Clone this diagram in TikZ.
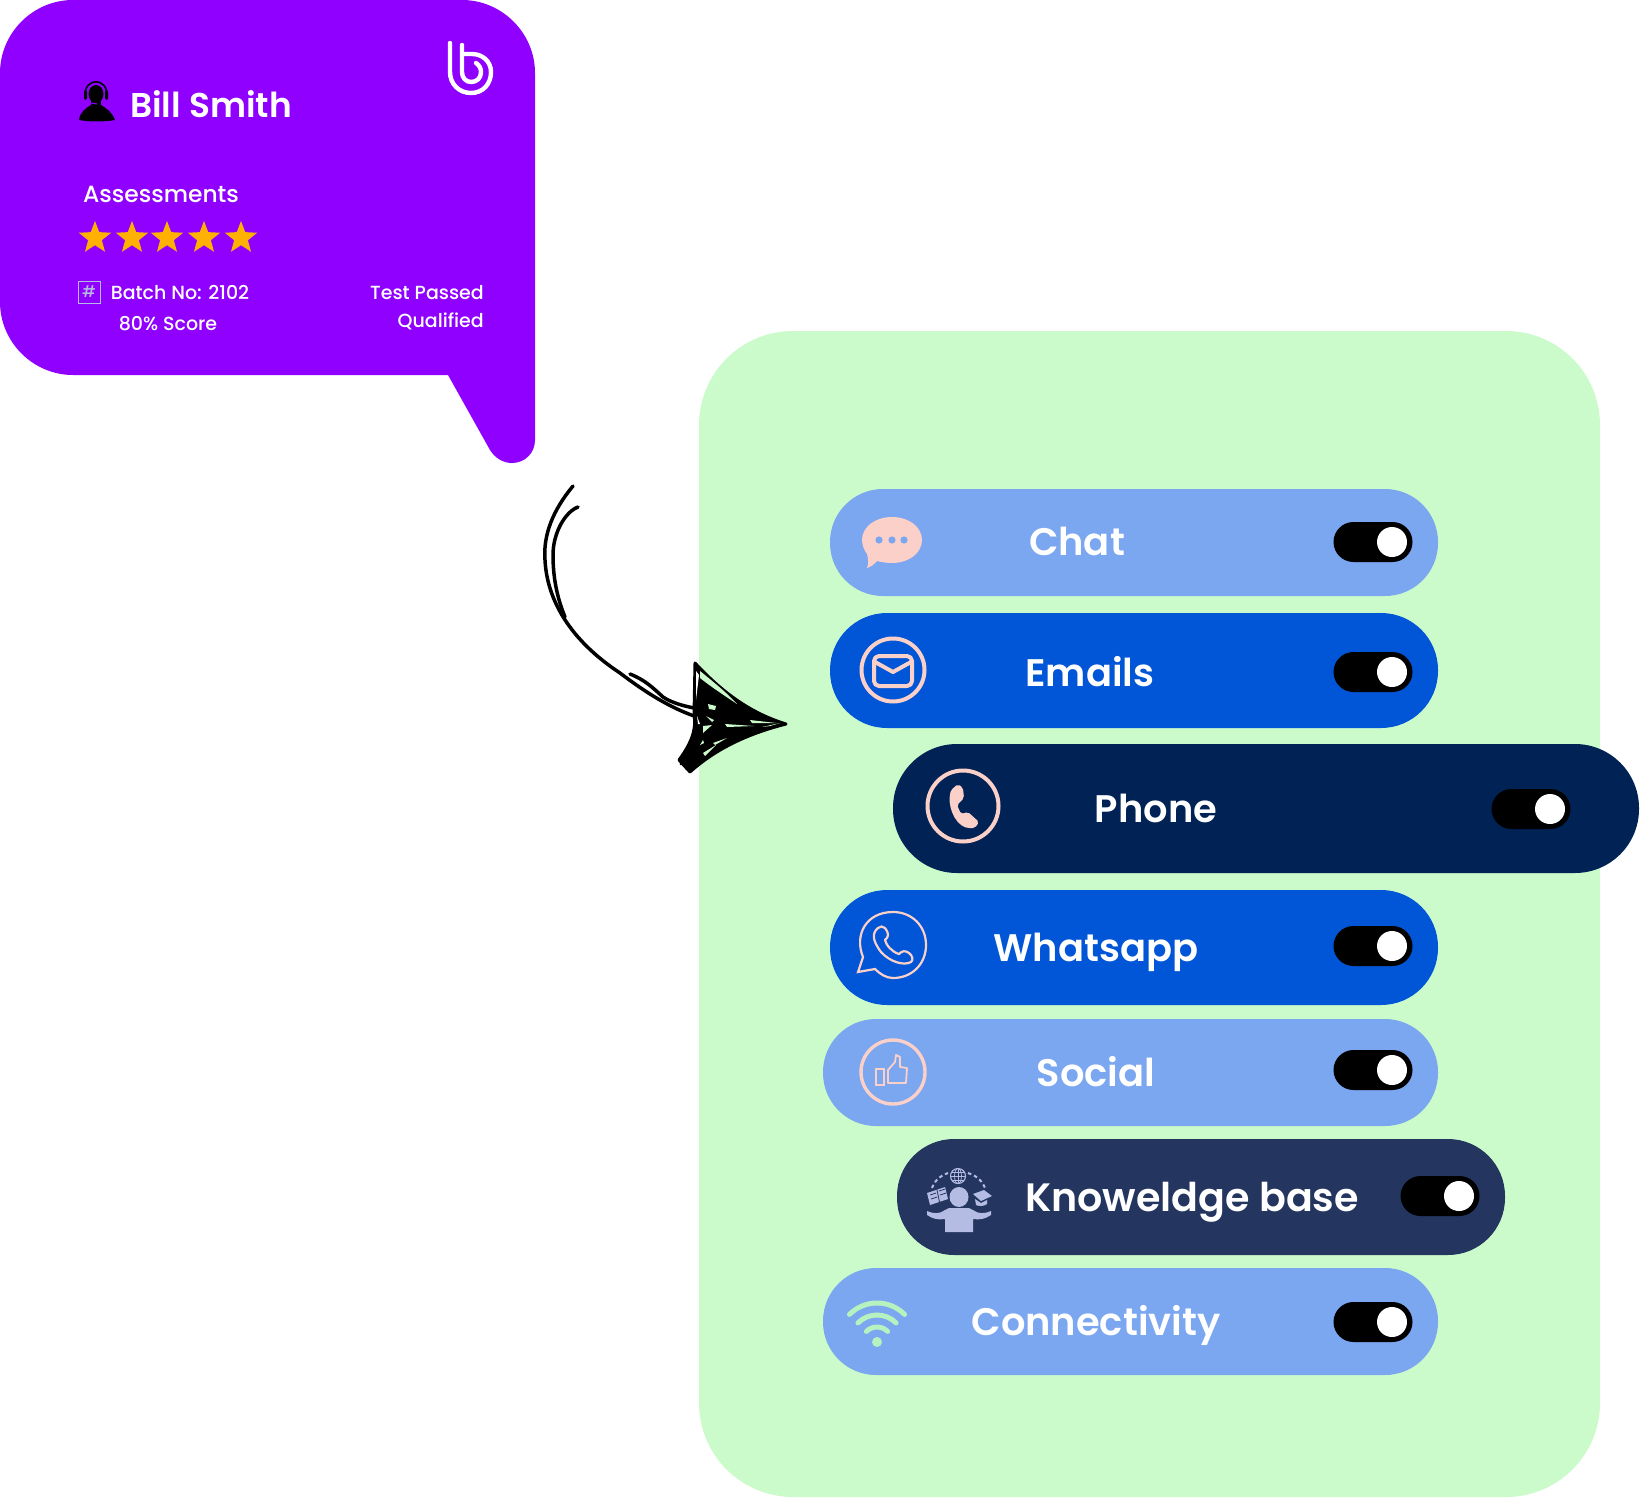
\documentclass[tikz,border=0pt]{standalone}
\usepackage{fontspec}
\setmainfont{Poppins Medium}
\newfontfamily\semi{Poppins SemiBold}
\usetikzlibrary{shapes.geometric}
\definecolor{cPurple}{HTML}{9000FF}
\definecolor{cPanel}{HTML}{CCFBCB}
\definecolor{cLight}{HTML}{7BA6F0}
\definecolor{cBlue}{HTML}{0056D6}
\definecolor{cNavy}{HTML}{002255}
\definecolor{cKb}{HTML}{24365F}
\definecolor{cPink}{HTML}{FBD0C8}
\definecolor{cStar}{HTML}{FFB000}
\definecolor{cWifi}{HTML}{B6F2C0}
\definecolor{cLilac}{HTML}{B4BCE4}
\tikzset{
  lab/.style={text=white,anchor=base,inner sep=0pt,font=\semi\fontsize{38.4}{38}\selectfont},
  small/.style={text=white,inner sep=0pt,anchor=base,font=\fontsize{19}{19}\selectfont},
  gold/.style={star,star points=5,star point ratio=2.35,fill=cStar,inner sep=0pt,minimum size=34pt},
  pinkline/.style={draw=cPink,line width=4pt,line join=round},
  sketch/.style={draw=black,line width=3.5pt,line cap=round,line join=round},
}
\newcommand{\pillshape}[6]{\fill[#6,rounded corners=#5pt] (#1,#2) rectangle (#3,#4);}
\newcommand{\toggleat}[3]{%
  \fill[black,rounded corners=20pt] (#2-39.5,#3-20) rectangle (#2+39.5,#3+20);
  \node[circle,fill=white,inner sep=0pt,minimum size=30pt] (#1) at (#2+19,#3) {};}
\newcommand{\sliv}[2]{\fill[#1] #2 -- cycle;}
\begin{document}
\begin{tikzpicture}[x=1pt,y=-1pt]
\useasboundingbox (0,0) rectangle (1640,1498);
% bubble
\fill[cPurple] (73,0) -- (462,0) .. controls (502,0) and (535,33) .. (535,73)
  -- (535,440) .. controls (535,453) and (525,463) .. (512,463)
  .. controls (503,463) and (495,458) .. (490,450) -- (448,375) -- (73,375)
  .. controls (33,375) and (0,342) .. (0,302) -- (0,73) .. controls (0,33) and (33,0) .. (73,0) -- cycle;
% logo
\draw[white,line width=4.4pt,line cap=round] (450,43) -- (450,72)
  .. controls (450,84) and (459,93) .. (471,93) .. controls (483,93) and (491,84) .. (491,72)
  .. controls (491,61) and (482,54) .. (472,54) -- (463,54);
\draw[white,line width=4.4pt,line cap=round] (462,45) -- (462,72)
  .. controls (462,78) and (466,82) .. (471,82) .. controls (477,82) and (481,78) .. (481,72)
  .. controls (481,68) and (479,65) .. (476,63);
% agent
\fill[black] (79,120) .. controls (80,112) and (86,108) .. (91,105) -- (101,105)
  .. controls (106,108) and (112,112) .. (115,120) .. controls (104,122) and (90,122) .. (79,120) -- cycle;
\fill[black] (96,94) ellipse [x radius=7.5pt,y radius=9pt];
\fill[black] (91,100) rectangle (101,108);
\draw[black,line width=1.6pt] (85,96) .. controls (84,77) and (108,77) .. (107,96);
\fill[black,rounded corners=1.5pt] (84,90) rectangle (87,100);
\fill[black,rounded corners=1.5pt] (105,90) rectangle (108,100);
\draw[cPurple,line width=1pt] (86,100) .. controls (89,104) and (93,103) .. (97,104);
% name and assessments
\node[lab,font=\semi\fontsize{34.4}{34}\selectfont] (name) at (211,118) {Bill Smith};
\node[small,font=\fontsize{23.4}{24}\selectfont] (assess) at (161,203) {Assessments};
\node[gold] (s1) at (95,238) {};
\node[gold] (s2) at (132,238) {};
\node[gold] (s3) at (167,238) {};
\node[gold] (s4) at (204,238) {};
\node[gold] (s5) at (241,238) {};
\draw[cLilac,line width=.7pt] (78,281) rectangle (100,303);
\node[text=cLilac,inner sep=0pt,font=\fontsize{16}{16}\selectfont] (hash) at (89,292) {\#};
\node[small] (batch) at (180,299) {Batch No: 2102};
\node[small] (score) at (168,330) {80\% Score};
\node[small,anchor=base east] (test) at (484,299) {Test Passed};
\node[small,anchor=base east] (qual) at (484,327) {Qualified};
% panel
\fill[cPanel,rounded corners=94pt] (699,331) rectangle (1600,1497);
% pills
\pillshape{830}{489}{1438}{596}{53}{cLight}
\pillshape{830}{613}{1438}{728}{57}{cBlue}
\pillshape{893}{744}{1639}{873}{64}{cNavy}
\pillshape{830}{890}{1438}{1005}{57}{cBlue}
\pillshape{823}{1019}{1438}{1126}{53}{cLight}
\pillshape{897}{1139}{1505}{1255}{57}{cKb}
\pillshape{823}{1268}{1438}{1375}{53}{cLight}
\node[lab] (chat) at (1077,555) {Chat};
\node[lab] (emails) at (1090,686) {Emails};
\node[lab] (phone) at (1156,822) {Phone};
\node[lab] (whatsapp) at (1096,961) {Whatsapp};
\node[lab] (social) at (1096,1086) {Social};
\node[lab,font=\semi\fontsize{39.6}{38}\selectfont] (kb) at (1192,1211) {Knoweldge base};
\node[lab] (conn) at (1096,1335) {Connectivity};
\toggleat{t1}{1373}{542}
\toggleat{t2}{1373}{672}
\toggleat{t3}{1531}{809}
\toggleat{t4}{1373}{946}
\toggleat{t5}{1373}{1070}
\toggleat{t6}{1440}{1196}
\toggleat{t7}{1373}{1322}
% chat icon
\fill[cPink] (892,517) .. controls (909,517) and (922,527) .. (922,540)
  .. controls (922,553) and (909,563) .. (892,563)
  .. controls (886,563) and (881,562) .. (877,561) .. controls (874,565) and (870,567) .. (867,568)
  .. controls (869,563) and (868,558) .. (867,554) .. controls (864,550) and (862,545) .. (862,540)
  .. controls (862,527) and (875,517) .. (892,517) -- cycle;
\foreach \x in {879,892,904} \fill[cLight] (\x,540) circle (3.6pt);
% mail icon
\draw[pinkline] (893,670) circle (31.5pt);
\draw[pinkline,rounded corners=5pt] (874,656) rectangle (912,686);
\draw[pinkline] (875,662) -- (893,672) -- (911,662);
% phone icon
\draw[pinkline] (963,806) circle (35.5pt);
\fill[cPink,rounded corners=2pt] (951,790) .. controls (947,805) and (954,823) .. (967,828) -- (975,828) -- (979,822) -- (968,812)
  -- (961,814) -- (957,805) -- (964,798) -- (963,788) -- (958,784) -- cycle;
% whatsapp icon
\draw[cPink,line width=2.2pt] (863,957) .. controls (854,935) and (866,912) .. (893,912)
  .. controls (912,912) and (926,926) .. (926,945) .. controls (926,964) and (912,978) .. (893,978)
  .. controls (886,978) and (880,974) .. (875,969) -- (858,972) -- cycle;
\draw[cPink,line width=2.2pt,line join=round] (878,928) .. controls (872,933) and (872,940) .. (881,952)
  .. controls (890,962) and (904,966) .. (911,962) .. controls (914,960) and (912,955) .. (909,953)
  .. controls (905,950) and (902,951) .. (899,954) .. controls (892,952) and (886,945) .. (885,940)
  .. controls (889,937) and (889,933) .. (885,928) .. controls (883,926) and (880,926) .. (878,928) -- cycle;
% social icon
\draw[pinkline,line width=3.4pt] (893,1072) circle (32pt);
\draw[cPink,line width=1.8pt] (876,1069) rectangle (884,1085);
\draw[cPink,line width=1.8pt,line join=round] (888,1070) -- (895,1062) -- (896,1055) -- (900,1057) -- (900,1067) -- (907,1068) -- (906,1083) -- (888,1083) -- cycle;
% knowledge icon
\fill[cLilac] (959,1197) ellipse [x radius=9.5pt,y radius=10pt];
\fill[cLilac] (927,1211) .. controls (934,1214) and (940,1214) .. (945,1210) .. controls (947,1208) and (950,1208) .. (952,1208)
  -- (966,1208) .. controls (968,1208) and (971,1208) .. (973,1210) .. controls (978,1214) and (984,1214) .. (991,1211)
  -- (991,1215) .. controls (985,1219) and (980,1220) .. (973,1219) -- (973,1232) -- (945,1232) -- (945,1219)
  .. controls (938,1220) and (933,1219) .. (927,1215) -- cycle;
\draw[cLilac,line width=1.1pt] (958,1176) circle (7.5pt);
\draw[cLilac,line width=.7pt] (950.5,1176) -- (965.5,1176) (952,1172) -- (964,1172) (952,1180) -- (964,1180);
\draw[cLilac,line width=.7pt] (958,1176) ellipse [x radius=3.5pt,y radius=7.5pt];
\draw[cLilac,line width=.7pt] (958,1168.5) -- (958,1183.5);
\draw[cLilac,line width=2pt,dash pattern=on 3.5pt off 3pt] (932,1188) .. controls (935,1180) and (941,1175) .. (948,1173);
\draw[cLilac,line width=2pt,dash pattern=on 3.5pt off 3pt] (968,1173) .. controls (975,1175) and (982,1180) .. (985,1188);
\fill[cLilac] (927,1193) -- (945,1187) -- (948,1199) -- (930,1205) -- cycle;
\draw[cKb,line width=.8pt] (930,1195) -- (936,1193) (931,1199) -- (937,1197) (939,1191) -- (945,1189) (940,1195) -- (946,1193) (937,1190) -- (939.5,1202);
\fill[cLilac] (973,1194) -- (984,1190) -- (992,1196) -- (981,1201) -- cycle;
\fill[cLilac] (975,1199) -- (981,1203) -- (987,1200) -- (987,1204) .. controls (983,1207) and (978,1206) .. (976,1205) -- cycle;
% wifi icon
\fill[cWifi] (877,1342) circle (5pt);
\foreach \r in {15,27,39}
  \draw[cWifi,line width=5pt,line cap=round] ({877-\r*0.707},{1342-\r*0.707})
    .. controls ({877-\r*0.317},{1342-\r*1.098}) and ({877+\r*0.317},{1342-\r*1.098}) .. ({877+\r*0.707},{1342-\r*0.707});
% sketched arrow
\draw[sketch] (573,486) .. controls (553,510) and (543,535) .. (545,560) .. controls (547,600) and (570,640) .. (620,673)
  .. controls (645,692) and (670,708) .. (697,717);
\draw[sketch] (578,507) .. controls (565,512) and (553,533) .. (553,555) .. controls (553,580) and (558,600) .. (565,617);
\draw[sketch] (630,674) .. controls (645,680) and (652,687) .. (663,697) .. controls (672,703) and (684,706) .. (694,708);
\fill[black] (695,663) .. controls (722,692) and (750,713) .. (786,724) .. controls (755,732) and (720,745) .. (690,772)
  -- (679,760) .. controls (690,745) and (697,730) .. (694,715) -- cycle;
\draw[sketch,line width=3pt] (695,663) .. controls (722,692) and (750,713) .. (786,724) .. controls (755,732) and (720,745) .. (690,772)
  -- (679,760) .. controls (690,745) and (697,730) .. (694,715) -- cycle;
\draw[sketch,line width=3pt] (686,768) -- (698,740) (681,764) -- (700,748);
% gaps in the scribble
\sliv{white}{(696,671) -- (699,675) -- (696,700)}
\sliv{white}{(697,716) -- (700,724) -- (698,724)}
\sliv{cPanel}{(700,671) .. controls (716,684) and (728,694) .. (737,704) .. controls (722,694) and (710,686) .. (700,678)}
\sliv{cPanel}{(708,704) -- (716,706) -- (715,710) -- (709,709)}
\sliv{cPanel}{(706,716) -- (714,720) -- (712,722)}
\sliv{cPanel}{(703,726) -- (712,725) -- (703,733)}
\sliv{cPanel}{(725,724) -- (754,726) -- (727,727)}
\sliv{cPanel}{(750,720) -- (776,723) -- (752,723)}
\sliv{cPanel}{(762,727) -- (780,723) -- (770,726)}
\sliv{cPanel}{(700,745) -- (703,740) -- (704,743)}
\sliv{cPanel}{(713,743) -- (727,738) -- (715,745)}
\sliv{cPanel}{(703,753) -- (716,745) -- (705,756)}
\end{tikzpicture}
\end{document}
